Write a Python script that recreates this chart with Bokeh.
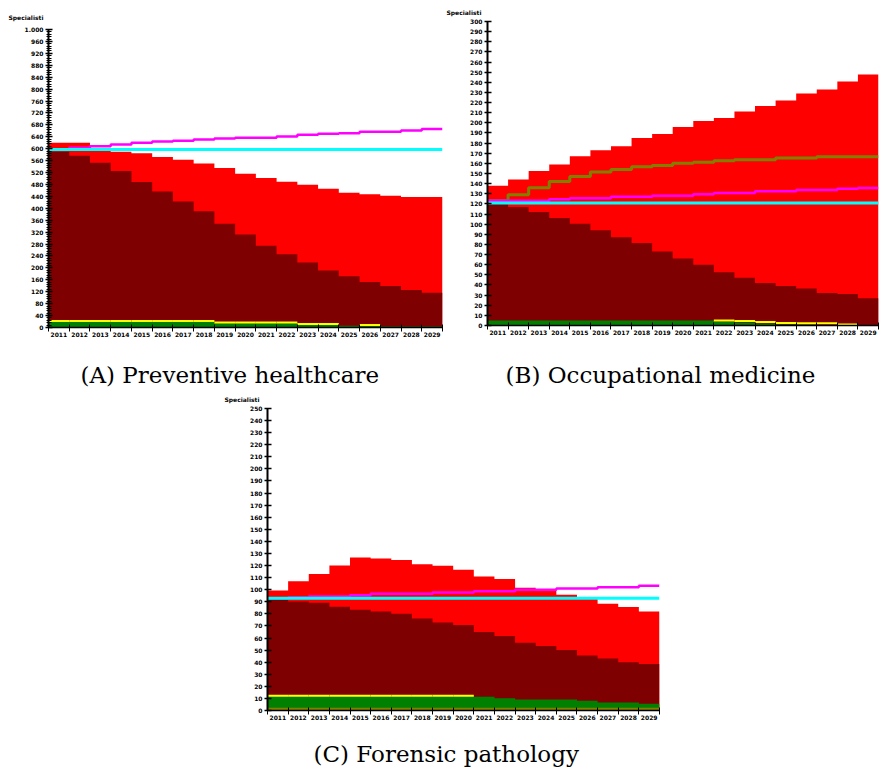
import math
from bokeh.plotting import figure
from bokeh.models import FixedTicker, Range1d, Spacer, Title
from bokeh.layouts import column, row
from bokeh.embed import file_html
from bokeh.resources import INLINE

nan = float("nan")

years = ["2011", "2012", "2013", "2014", "2015", "2016", "2017", "2018", "2019", "2020",
         "2021", "2022", "2023", "2024", "2025", "2026", "2027", "2028", "2029"]

# (A) Preventive healthcare
a_total = [620, 620, 592, 590, 585, 572, 563, 550, 535, 516, 502, 489, 479, 466, 452, 447, 442, 438, 438]
a_maroon = [590, 576, 553, 525, 488, 456, 423, 390, 348, 312, 274, 246, 218, 191, 172, 153, 139, 126, 117]
a_green = [20, 20, 20, 20, 20, 20, 20, 20, 16, 16, 16, 16, 10, 10, 6, 6, 3, 3, 3]
a_yellow = [22, 22, 22, 22, 22, 22, 22, 22, 17, 17, 17, 17, 12, 12, nan, 8, nan, nan, nan]
a_magenta = [598, 603, 608, 614, 620, 624, 627, 631, 634, 637, 637, 641, 647, 650, 652, 657, 657, 661, 666]
a_cyan = [597] * 19

# (B) Occupational medicine
b_total = [138, 144, 152.5, 159, 167, 173, 177, 185, 189, 196, 201.8, 204.7, 211.3, 216.6, 222, 229, 233, 240.8, 247.7]
b_maroon = [121, 117, 112, 106, 100.5, 94, 87, 81.5, 73, 66, 60, 52.5, 47, 42, 39, 36.5, 32, 31, 27]
b_green = [5, 5, 5, 5, 5, 5, 5, 5, 5, 5, 5, 4, 3, 2, 1, 1, 0.5, 0.5, 0.3]
b_yellow = [nan, nan, nan, nan, nan, nan, nan, nan, nan, nan, nan, 5, 4.5, 3.5, 2.5, 2.2, 2.2, 1, nan]
b_olive = [123, 129, 136, 142, 147, 151.5, 154, 156.7, 158, 160, 161, 162.6, 163.6, 163.6, 165.3, 165.3, 166.6, 166.6, 166.6]
b_magenta = [123, 123, 123, 124.5, 125.5, 125.5, 127, 127, 128, 128, 129.4, 130.8, 130.8, 132.4, 132.4, 133.8, 133.8, 135, 135.7]
b_cyan = [121] * 19

# (C) Forensic pathology
c_total = [99.3, 107, 113, 120, 126.7, 125.8, 124.5, 121, 119.8, 116.5, 111, 108.8, 101.6, 100.5, 95.8, 93.3, 88.3, 85.6, 82]
c_maroon = [92.5, 90.2, 89.2, 85.8, 83.4, 82, 80, 76.2, 72.9, 70.7, 64.9, 61.6, 56, 53.3, 50, 45.5, 43, 40, 38.4]
c_green = [11.9, 11.9, 11.9, 11.9, 11.9, 11.9, 11.9, 11.9, 11.9, 11.9, 11.3, 10.2, 9.1, 9.1, 9.1, 8, 6.6, 6.6, 5.5]
c_yellow = [12.3, 12.3, 12.3, 12.3, 12.3, 12.3, 12.3, 12.3, 12.3, 12.3, nan, nan, nan, nan, nan, nan, nan, nan, nan]
c_olive = [1] * 19
c_magenta = [93, 93.5, 94.4, 94.4, 95.5, 96.6, 96.6, 96.6, 97.7, 97.7, 98.8, 98.8, 99.9, 99.9, 101, 101, 102.1, 102.1, 103.2]
c_cyan = [93] * 19

y_title = "Specialisti"
captions = ["(A) Preventive healthcare", "(B) Occupational medicine", "(C) Forensic pathology"]

TICK_FONT = "DejaVu Sans"
CAP_FONT = "DejaVu Serif"


def panel(total, maroon, green, yellow, olive, magenta, cyan, ymax, ystep, yminor,
          overrides, fl, fw, fr, ft, fh, fb, extra_top, caption, cap_dx, cap_gap,
          lab_dx, lab_standoff):
    n = len(years)
    edges = list(range(n + 1))

    def pad(v):
        return list(v) + [v[-1]]

    # the frame may reach a few pixels above the top of the axis
    y_end = ymax * fh / (fh - extra_top)
    p = figure(frame_width=fw, frame_height=fh, min_border_left=fl, min_border_right=fr,
               min_border_top=ft, min_border_bottom=fb, output_backend="svg",
               toolbar_location=None, x_range=Range1d(0, n), y_range=Range1d(0, y_end))
    p.outline_line_color = None
    p.xgrid.visible = False
    p.ygrid.visible = False

    p.varea_step(x=edges, y1=[0] * (n + 1), y2=pad(total), step_mode="after", fill_color="#FF0000")
    p.varea_step(x=edges, y1=[0] * (n + 1), y2=pad(maroon), step_mode="after", fill_color="#7F0000")
    p.varea_step(x=edges, y1=[0] * (n + 1), y2=pad(green), step_mode="after", fill_color="#008000")
    p.segment(x0=edges[:-1], x1=edges[1:], y0=yellow, y1=yellow, line_color="#FFFF00", line_width=2)
    if olive is not None:
        p.step(x=edges, y=pad(olive), mode="after", line_color="#808000", line_width=3)
    p.step(x=edges, y=pad(magenta), mode="after", line_color="#FF00FF", line_width=2.5)
    p.step(x=edges, y=pad(cyan), mode="after", line_color="#00FFFF", line_width=3)

    # x axis: labels centred in each year, tick marks at the year boundaries
    centers = [i + 0.5 for i in range(n)]
    p.xaxis.ticker = FixedTicker(ticks=centers, minor_ticks=edges)
    p.xaxis.major_label_overrides = {c: years[i] for i, c in enumerate(centers)}
    p.xaxis.major_tick_line_color = None
    p.xaxis.major_tick_out = 0
    p.xaxis.major_tick_in = 0
    p.xaxis.minor_tick_line_color = "black"
    p.xaxis.minor_tick_out = 4
    p.xaxis.minor_tick_in = 3
    p.xaxis.major_label_standoff = 0
    p.xaxis.axis_line_width = 1.5
    p.xaxis.major_label_text_font = TICK_FONT
    p.xaxis.major_label_text_font_size = "6px"
    p.xaxis.major_label_text_font_style = "bold"
    p.xaxis.major_label_text_color = "black"
    # blank axis label used only as a gap between the tick labels and the caption
    p.xaxis.axis_label = " "
    p.xaxis.axis_label_text_font_size = "1px"
    p.xaxis.axis_label_standoff = cap_gap

    yt = list(range(0, ymax + 1, ystep))
    ym = list(range(0, ymax + 1, yminor)) if yminor else []
    p.yaxis.ticker = FixedTicker(ticks=yt, minor_ticks=ym)
    p.yaxis.bounds = (0, ymax)
    p.yaxis.major_label_overrides = overrides
    p.yaxis.major_tick_out = 3
    p.yaxis.major_tick_in = 4
    p.yaxis.minor_tick_out = 2
    p.yaxis.minor_tick_in = 3
    p.yaxis.major_tick_line_width = 1.5
    p.yaxis.minor_tick_line_color = "black" if yminor else None
    p.yaxis.axis_line_width = 2
    p.yaxis.major_label_standoff = 2
    p.yaxis.major_label_text_font = TICK_FONT
    p.yaxis.major_label_text_font_size = "6px"
    p.yaxis.major_label_text_font_style = "bold"
    p.yaxis.major_label_text_color = "black"

    p.title.text = y_title
    p.title.align = "left"
    p.title.offset = lab_dx
    p.title.standoff = lab_standoff
    p.title.text_font = TICK_FONT
    p.title.text_font_size = "6px"
    p.title.text_font_style = "bold"
    p.title.text_color = "black"

    p.add_layout(Title(text=caption, align="left", offset=cap_dx, standoff=0,
                       text_font=CAP_FONT, text_font_size="23px", text_font_style="normal",
                       text_color="black"), "below")
    return p


pA = panel(a_total, a_maroon, a_green, a_yellow, None, a_magenta, a_cyan, 1000, 40, 8,
           {1000: "1.000"}, 48, 394, 4, 21, 306, 61, 8, captions[0], 32, 16, -40, 1)
pB = panel(b_total, b_maroon, b_green, b_yellow, b_olive, b_magenta, b_cyan, 300, 10, None,
           {}, 41, 391, 4, 21, 304, 63, 0, captions[1], 18, 18, -41, 12)
pC = panel(c_total, c_maroon, c_green, c_yellow, c_olive, c_magenta, c_cyan, 250, 10, None,
           {}, 47, 392, 4, 18, 302, 57, 0, captions[2], 46, 12, -43, 11)

layout = column(row(pA, pB), row(Spacer(width=220, height=377), pC))

with open("out.html", "w") as f:
    f.write(file_html(layout, INLINE))
